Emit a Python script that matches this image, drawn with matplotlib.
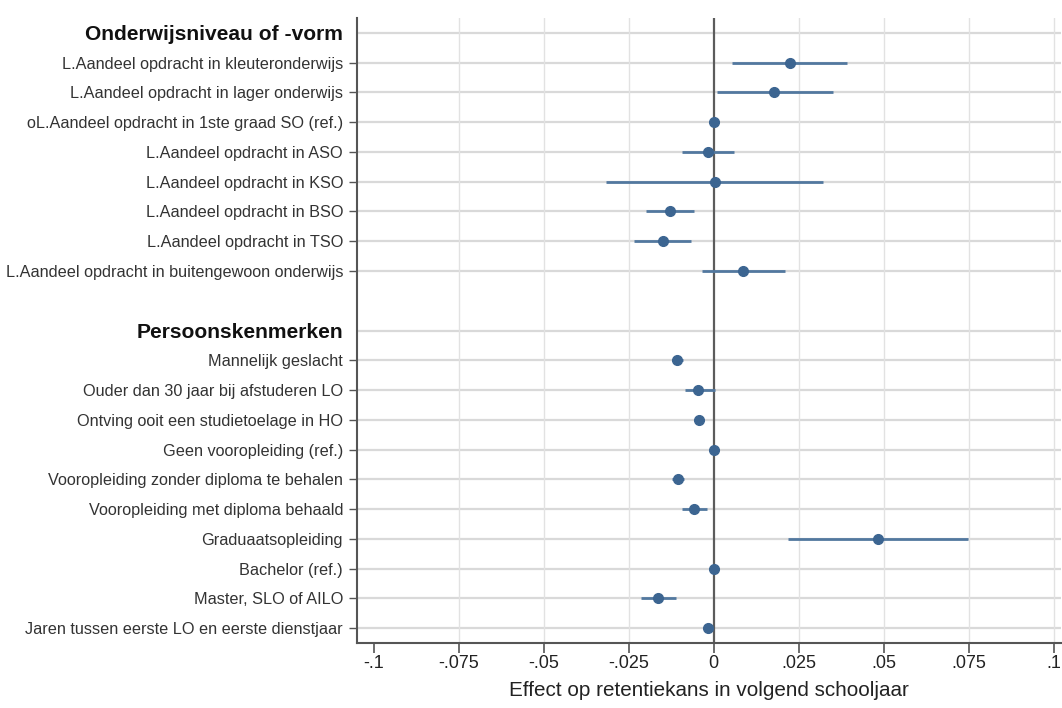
import matplotlib
matplotlib.use("Agg")
import matplotlib.pyplot as plt
import numpy as np

plt.rcParams['font.family'] = ['Liberation Sans', 'DejaVu Sans']

# Rows (None = blank spacer row); headers flagged separately
labels = [
    "Onderwijsniveau of -vorm",
    "L.Aandeel opdracht in kleuteronderwijs",
    "L.Aandeel opdracht in lager onderwijs",
    "oL.Aandeel opdracht in 1ste graad SO (ref.)",
    "L.Aandeel opdracht in ASO",
    "L.Aandeel opdracht in KSO",
    "L.Aandeel opdracht in BSO",
    "L.Aandeel opdracht in TSO",
    "L.Aandeel opdracht in buitengewoon onderwijs",
    None,
    "Persoonskenmerken",
    "Mannelijk geslacht",
    "Ouder dan 30 jaar bij afstuderen LO",
    "Ontving ooit een studietoelage in HO",
    "Geen vooropleiding (ref.)",
    "Vooropleiding zonder diploma te behalen",
    "Vooropleiding met diploma behaald",
    "Graduaatsopleiding",
    "Bachelor (ref.)",
    "Master, SLO of AILO",
    "Jaren tussen eerste LO en eerste dienstjaar",
]
is_header = [i in (0, 10) for i in range(len(labels))]

estimate = [np.nan, 0.0224, 0.0178, 0.0, -0.0016, 0.0003, -0.0130, -0.0150, 0.0086,
            np.nan, np.nan,
            -0.0108, -0.0045, -0.0042, 0.0, -0.0105, -0.0058, 0.0482, 0.0, -0.0165, -0.0016]
ci_low = [np.nan, 0.0054, 0.0011, 0.0, -0.0093, -0.0316, -0.0199, -0.0234, -0.0034,
          np.nan, np.nan,
          -0.0122, -0.0086, -0.0054, 0.0, -0.0122, -0.0092, 0.0218, 0.0, -0.0215, -0.0028]
ci_high = [np.nan, 0.0392, 0.0351, 0.0, 0.0061, 0.0322, -0.0059, -0.0068, 0.0209,
           np.nan, np.nan,
           -0.0091, 0.0003, -0.0030, 0.0, -0.0089, -0.0019, 0.0747, 0.0, -0.0111, -0.0005]

xticks = [-0.1, -0.075, -0.05, -0.025, 0, 0.025, 0.05, 0.075, 0.1]
xticklabels = ["-.1", "-.075", "-.05", "-.025", "0", ".025", ".05", ".075", ".1"]

fig = plt.figure(figsize=(10.62, 7.08), dpi=100)
ax = fig.add_axes([357/1062, 1 - 643/708, (1061 - 357)/1062, (643 - 18)/708])

ypos = np.arange(len(labels))
est = np.array(estimate)
lo = np.array(ci_low)
hi = np.array(ci_high)

grid_col = "#d9d9d9"
tick_pos = [y for y, l in zip(ypos, labels) if l is not None]
tick_lab = [l for l in labels if l is not None]
for y in tick_pos:
    ax.axhline(y, color=grid_col, lw=1.6, zorder=0)
for xv in xticks[1:]:
    if xv != 0:
        ax.axvline(xv, color="#e2e2e2", lw=1.0, zorder=0)
ax.axvline(0, color="#5c5c5c", lw=1.6, zorder=1)

line_col = "#52789f"
pt_col = "#3c6591"
ax.hlines(ypos, lo, hi, color=line_col, lw=2.0, zorder=2)
ax.plot(est, ypos, 'o', color=pt_col, ms=7, zorder=3, mec=pt_col)

ax.set_xlim(-0.105, 0.1022)
ax.set_ylim(20.5, -0.5)
ax.set_xticks(xticks)
ax.set_xticklabels(xticklabels, fontsize=13, color="#222222")
ax.set_yticks(tick_pos)
ax.set_yticklabels(tick_lab)
ytl = ax.get_yticklabels()
ticks = ax.yaxis.get_major_ticks()
hdr_flags = [h for h, l in zip(is_header, labels) if l is not None]
for t, lab, h in zip(ticks, ytl, hdr_flags):
    if h:
        lab.set_fontsize(15.1)
        lab.set_fontweight('bold')
        lab.set_color("#111111")
        t.tick1line.set_visible(False)
    else:
        lab.set_fontsize(11.7)
        lab.set_color("#333333")

ax.tick_params(axis='y', length=6, width=1, color="#555555", pad=4)
ax.tick_params(axis='x', length=7, width=1.2, color="#555555", pad=2)

for s in ['top', 'right']:
    ax.spines[s].set_visible(False)
for s in ['left', 'bottom']:
    ax.spines[s].set_color("#555555")
    ax.spines[s].set_linewidth(1.5)

ax.set_xlabel("Effect op retentiekans in volgend schooljaar", fontsize=14.9, color="#222222", labelpad=6)

fig.savefig("out.png", dpi=100, facecolor="white")
